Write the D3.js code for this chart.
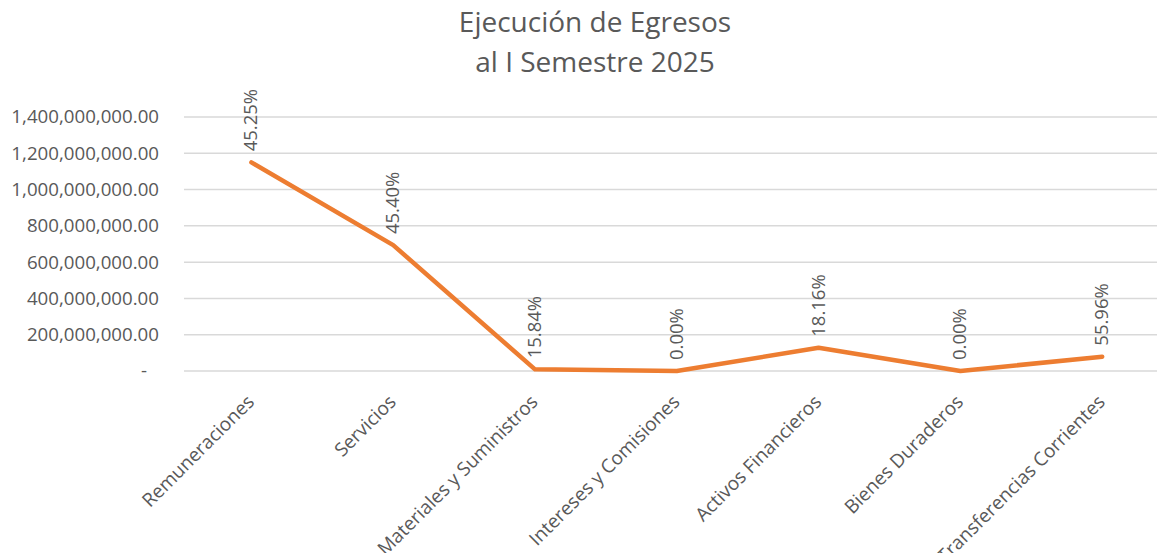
<!DOCTYPE html>
<html>
<head>
<meta charset="utf-8">
<script src="https://cdn.jsdelivr.net/npm/d3@7"></script>
<style>
  body { margin: 0; background: #fff; }
  text { font-family: "Open Sans", sans-serif; fill: #595959; }
</style>
</head>
<body>
<div id="chart"></div>
<script>
// Data
const categories = ["Remuneraciones", "Servicios", "Materiales y Suministros",
  "Intereses y Comisiones", "Activos Financieros", "Bienes Duraderos", "Transferencias Corrientes"];
const ejecutado = [1150000000, 694000000, 9000000, 0, 128000000, 0, 79000000];
const porcentajes = ["45.25%", "45.40%", "15.84%", "0.00%", "18.16%", "0.00%", "55.96%"];
const yTicks = [0, 200000000, 400000000, 600000000, 800000000, 1000000000, 1200000000, 1400000000];
const titleLines = ["Ejecución de Egresos", "al I Semestre 2025"];

const width = 1157, height = 553;
const plot = { left: 184, right: 1157, top: 117, bottom: 371 };

const svg = d3.select("#chart")
    .append("svg")
    .attr("width", width)
    .attr("height", height);

// Scales
const x = d3.scaleBand()
    .domain(categories)
    .range([180.5, 180.5 + 7 * 141.8]);

const y = d3.scaleLinear()
    .domain([0, 1400000000])
    .range([plot.bottom, plot.top]);

// Title
svg.append("text")
    .attr("x", 595)
    .attr("y", 32)
    .attr("text-anchor", "middle")
    .style("font-size", "28px")
    .selectAll("tspan")
    .data(titleLines)
    .enter()
    .append("tspan")
    .attr("x", 595)
    .attr("dy", (d, i) => i === 0 ? 0 : 40)
    .text(d => d);

// Gridlines
svg.append("g")
    .selectAll("line")
    .data(yTicks)
    .enter()
    .append("line")
    .attr("x1", plot.left)
    .attr("x2", plot.right)
    .attr("y1", d => y(d))
    .attr("y2", d => y(d))
    .attr("stroke", "#d9d9d9")
    .attr("stroke-width", 1.5);

// Y axis labels
const fmt = d3.format(",.2f");
const yAxis = svg.append("g")
    .attr("transform", "translate(159,0)")
    .call(d3.axisLeft(y).tickValues(yTicks).tickSize(0).tickPadding(0)
        .tickFormat(d => d === 0 ? "-" : fmt(d)));
yAxis.select(".domain").remove();
yAxis.selectAll("text")
    .style("font-size", "18.7px")
    .style("font-family", "'Open Sans', sans-serif")
    .attr("fill", "#595959")
    .attr("dx", d => d === 0 ? -12 : 0);

// X axis labels
const xAxis = svg.append("g")
    .attr("transform", `translate(0,${plot.bottom})`)
    .call(d3.axisBottom(x).tickSize(0).tickPadding(0));
xAxis.select(".domain").remove();
xAxis.selectAll("text")
    .style("font-size", "19px")
    .style("font-family", "'Open Sans', sans-serif")
    .attr("fill", "#595959")
    .attr("text-anchor", "end")
    .attr("y", 0)
    .attr("dy", 0)
    .attr("transform", "translate(4,32) rotate(-45)");

// Line
const line = d3.line()
    .x((d, i) => x(categories[i]) + x.bandwidth() / 2)
    .y(d => y(d));

svg.append("path")
    .datum(ejecutado)
    .attr("fill", "none")
    .attr("stroke", "#ED7D31")
    .attr("stroke-width", 4.5)
    .attr("stroke-linejoin", "round")
    .attr("stroke-linecap", "round")
    .attr("d", line);

// Data labels (rotated)
svg.append("g")
    .selectAll("text")
    .data(ejecutado)
    .enter()
    .append("text")
    .attr("transform", (d, i) =>
        `translate(${x(categories[i]) + x.bandwidth() / 2 + 6},${y(d) - 11}) rotate(-90)`)
    .style("font-size", "18.5px")
    .text((d, i) => porcentajes[i]);
</script>
</body>
</html>
